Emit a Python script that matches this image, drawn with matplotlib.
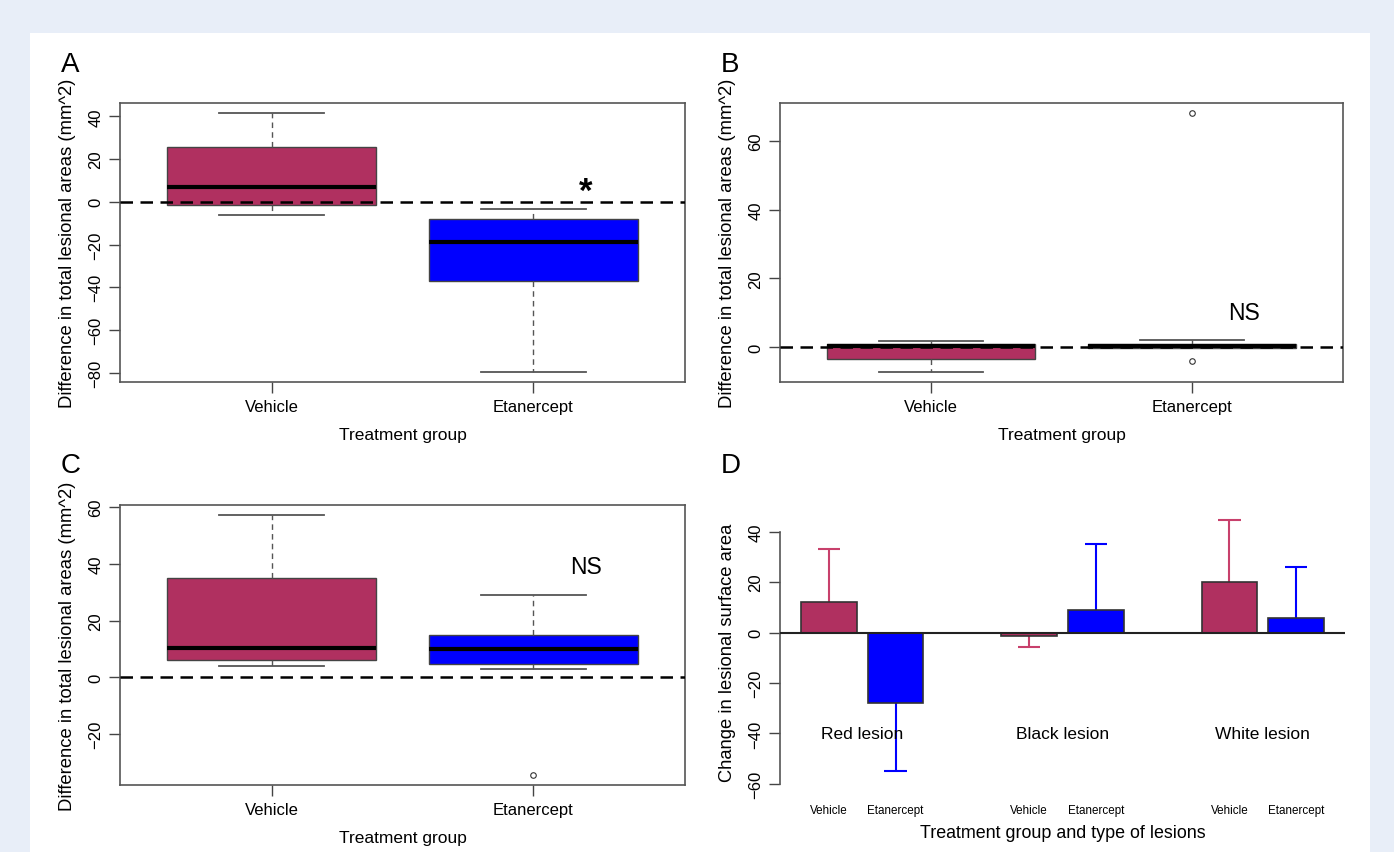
import numpy as np
import matplotlib
matplotlib.use('Agg')
import matplotlib.pyplot as plt
from matplotlib.patches import Rectangle

plt.rcParams['font.family'] = ['Liberation Sans', 'DejaVu Sans']

groups = ['Vehicle', 'Etanercept']
box_colors = ['#b03060', '#0000ff']

# box stats: whislo, q1, med, q3, whishi
a_stats = [[-6.1, -1.3, 6.9, 25.6, 41.4], [-79.5, -37.0, -18.8, -8.2, -3.3]]
a_fliers = [[], []]
b_stats = [[-7.1, -3.5, 0.5, 1.0, 1.95], [-0.3, -0.3, 0.4, 1.0, 2.0]]
b_fliers = [[], [68.0, -4.1]]
c_stats = [[4.1, 6.0, 10.2, 34.8, 57.0], [3.0, 4.7, 9.9, 15.0, 29.1]]
c_fliers = [[], [-34.2]]

# panel D
lesions = ['Red lesion', 'Black lesion', 'White lesion']
vehicle_change = [12.0, -1.4, 20.1]
etan_change = [-27.8, 8.9, 5.8]
vehicle_err_end = [33.0, -5.6, 44.8]
etan_err_end = [-54.8, 35.0, 26.0]

W, H = 1394, 853
fig = plt.figure(figsize=(W / 100, H / 100), dpi=100)
fig.patch.set_facecolor('#e8eef8')
fig.add_artist(Rectangle((30 / W, 0), 1340 / W, 1 - 34 / H, transform=fig.transFigure,
                         facecolor='white', edgecolor='none', zorder=-1))


def px(l, t, r, b):
    return [l / W, 1 - b / H, (r - l) / W, (b - t) / H]


def style_axis(ax):
    ax.tick_params(direction='out', length=8, width=1, color='#444', labelsize=12, pad=4)
    for lab in ax.get_yticklabels():
        lab.set_rotation(90)
        lab.set_va('center')
    for s in ax.spines.values():
        s.set_color('#555')
        s.set_linewidth(1.2)


def boxpanel(rect, stats, fliers, yticks, note, note_y, note_size, weight='normal'):
    ax = fig.add_axes(rect)
    bs = []
    for name, s, f in zip(groups, stats, fliers):
        bs.append(dict(label=name, whislo=s[0], q1=s[1], med=s[2], q3=s[3], whishi=s[4], fliers=f))
    parts = ax.bxp(bs, positions=[1, 2], widths=0.8, capwidths=0.4, patch_artist=True,
                   boxprops=dict(edgecolor='#444', linewidth=1.0),
                   medianprops=dict(color='black', linewidth=3),
                   whiskerprops=dict(color='#555', linewidth=1, linestyle=(0, (4, 3))),
                   capprops=dict(color='#555', linewidth=1.3),
                   flierprops=dict(marker='o', markersize=4, markerfacecolor='none',
                                   markeredgecolor='#333', markeredgewidth=0.8))
    for patch, col in zip(parts['boxes'], box_colors):
        patch.set_facecolor(col)
    ax.axhline(0, color='black', lw=1.8, linestyle=(0, (5, 3)), zorder=5)
    lo = min([s[0] for s in stats] + sum(fliers, []))
    hi = max([s[4] for s in stats] + sum(fliers, []))
    pad = (hi - lo) * 0.04
    ax.set_ylim(lo - pad, hi + pad)
    ax.set_xlim(0.42, 2.58)
    ax.set_yticks(yticks)
    ax.text(2.2, note_y, note, ha='center', va='center', fontsize=note_size, fontweight=weight)
    ax.set_ylabel('Difference in total lesional areas (mm^2)', fontsize=13.3)
    ax.set_xlabel('Treatment group', fontsize=12.5)
    ax.yaxis.set_label_coords(-0.078, 0.5)
    ax.xaxis.set_label_coords(0.5, -0.162)
    style_axis(ax)
    return ax


boxpanel(px(120, 104, 685, 383), a_stats, a_fliers, [-80, -60, -40, -20, 0, 20, 40], '*', 5, 25, 'bold')
boxpanel(px(780, 104, 1343, 383), b_stats, b_fliers, [0, 20, 40, 60], 'NS', 10, 16.5)
boxpanel(px(120, 506, 685, 786), c_stats, c_fliers, [-20, 0, 20, 40, 60], 'NS', 39, 16.5)

# panel D bar chart
axd = fig.add_axes(px(780, 510, 1345, 795))
idx = np.arange(len(lesions))
xv = 1.9 + 3.6 * idx
xe = 3.1 + 3.6 * idx
axd.vlines(xv, vehicle_change, vehicle_err_end, color='#c8406c', lw=1.5, zorder=1)
axd.hlines(vehicle_err_end, xv - 0.2, xv + 0.2, color='#c8406c', lw=1.5, zorder=1)
axd.vlines(xe, etan_change, etan_err_end, color='#0000ff', lw=1.5, zorder=1)
axd.hlines(etan_err_end, xe - 0.2, xe + 0.2, color='#0000ff', lw=1.5, zorder=1)
axd.bar(xv, vehicle_change, width=1, color=box_colors[0], edgecolor='#333', lw=1.2, zorder=2)
axd.bar(xe, etan_change, width=1, color=box_colors[1], edgecolor='#333', lw=1.2, zorder=2)
axd.axhline(0, color='#222', lw=1.5, zorder=3)
for x, name in zip((xv + xe) / 2, lesions):
    axd.text(x, -40, name, ha='center', va='center', fontsize=12.5)
axd.set_xlim(1.024, 11.176)
axd.set_ylim(-64, 49)
axd.set_yticks([-60, -40, -20, 0, 20, 40])
axd.set_xticks(np.concatenate([xv, xe]))
axd.set_xticklabels(['Vehicle'] * 3 + ['Etanercept'] * 3)
for s in ['top', 'right', 'bottom']:
    axd.spines[s].set_visible(False)
axd.spines['left'].set_bounds(-60, 40)
style_axis(axd)
axd.tick_params(axis='x', length=0, labelsize=8.4, pad=7)
axd.set_ylabel('Change in lesional surface area', fontsize=13.2)
axd.set_xlabel('Treatment group and type of lesions', fontsize=12.9)
axd.yaxis.set_label_coords(-0.078, 0.5)
axd.xaxis.set_label_coords(0.5, -0.105)

for letter, x, y in [('A', 61, 72), ('B', 721, 72), ('C', 61, 473), ('D', 721, 473)]:
    fig.text(x / W, 1 - y / H, letter, fontsize=20, va='baseline')

fig.savefig('out.png', dpi=100, facecolor=fig.get_facecolor())
